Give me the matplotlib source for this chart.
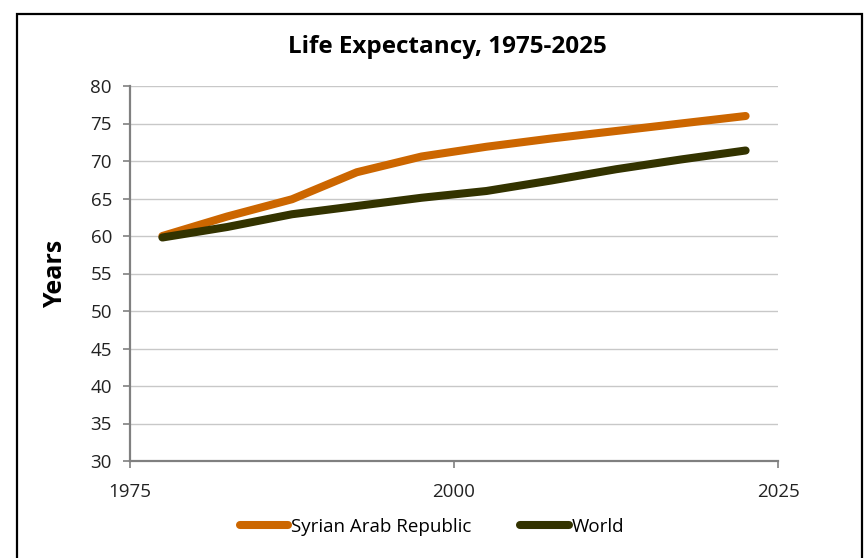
import numpy as np
import matplotlib
matplotlib.use("Agg")
import matplotlib.pyplot as plt
from matplotlib.patches import Rectangle

# ─────────────────────────────────────────────────────────────────────────────
# Data (5-year period midpoints)
years = [1977.5, 1982.5, 1987.5, 1992.5, 1997.5, 2002.5, 2007.5, 2012.5, 2017.5, 2022.5]
syria = [60.0, 62.6, 64.9, 68.5, 70.6, 71.9, 73.0, 74.0, 75.0, 76.0]
world = [59.8, 61.2, 62.9, 64.0, 65.1, 66.0, 67.4, 68.9, 70.2, 71.4]
x_ticks = [1975, 2000, 2025]
y_ticks = list(range(30, 81, 5))

ORANGE = "#cc6600"
OLIVE = "#333300"
plt.rcParams["font.family"] = ["Open Sans", "DejaVu Sans"]

fig = plt.figure(figsize=(8.65, 5.58), dpi=100)
ax = fig.add_axes([130 / 865, 1 - 461 / 558, 648 / 865, 375 / 558])

ax.plot(years, syria, color=ORANGE, lw=5.8, solid_capstyle="round",
        solid_joinstyle="round", label="Syrian Arab Republic", zorder=3)
ax.plot(years, world, color=OLIVE, lw=5.8, solid_capstyle="round",
        solid_joinstyle="round", label="World", zorder=4)

ax.set_xlim(1975, 2025)
ax.set_ylim(30, 80)
ax.set_xticks(x_ticks)
ax.set_yticks(y_ticks)
ax.yaxis.grid(True, color="#c8c8c8", lw=1.0)
ax.set_axisbelow(True)

for side in ("top", "right"):
    ax.spines[side].set_visible(False)
for side in ("left", "bottom"):
    ax.spines[side].set_color("#808080")
    ax.spines[side].set_linewidth(1.6)

ax.tick_params(axis="both", colors="#808080", width=1.2, length=5,
               labelcolor="#222222", labelsize=13.5)
ax.tick_params(axis="x", pad=11)
ax.tick_params(axis="y", pad=8)

ax.set_ylabel("Years", fontsize=18, fontweight="bold", labelpad=16)
fig.text(447 / 865, 1 - 47 / 558, "Life Expectancy, 1975-2025",
         ha="center", va="center", fontsize=17.5, fontweight="bold")

leg = fig.legend(loc="center", bbox_to_anchor=(432 / 865, 1 - 527 / 558), ncol=2,
                 frameon=False, fontsize=13.5, handlelength=2.6, handletextpad=0.15,
                 columnspacing=2.6)

# figure border
fig.patches.append(Rectangle((17 / 865, -0.05), 845 / 865, 1.05 - 14 / 558,
                             transform=fig.transFigure, fill=False,
                             edgecolor="black", lw=1.6))

fig.savefig("out.png", dpi=100)
